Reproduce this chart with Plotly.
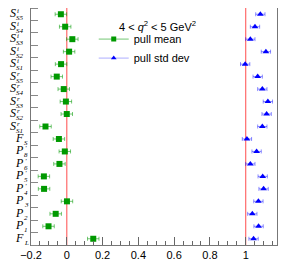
import plotly.graph_objects as go

base_letters = ["S"] * 10 + ["F", "P", "P", "P", "P", "P", "P", "P", "F"]
sup_texts = ["i"] * 5 + ["r"] * 5 + ["", "'", "'", "'", "'", "", "", "", ""]
sub_texts = ["S5", "S4", "S3", "S2", "S1", "S5", "S4", "S3", "S2", "S1",
             "S", "8", "6", "5", "4", "3", "2", "1", "L"]
rows = list(range(len(base_letters)))

pull_mean = [-0.033, -0.009, 0.031, 0.013, -0.032, -0.056, -0.017, -0.005, 0.0, -0.119,
             -0.044, -0.011, -0.041, -0.128, -0.127, 0.001, -0.062, -0.102, 0.148]
pull_mean_err = [0.032] * 19
pull_std = [1.082, 1.052, 1.026, 1.113, 0.997, 1.067, 1.093, 1.124, 1.117, 1.093,
            1.007, 1.061, 1.026, 1.095, 1.100, 1.071, 1.037, 1.072, 1.044]
pull_std_err = [0.026] * 19
ref_lines = [0, 1]

fig = go.Figure()
fig.add_trace(go.Scatter(
    x=pull_mean, y=rows, mode="markers", name="pull mean", showlegend=False,
    marker=dict(symbol="square", size=6, color="#009900"),
    error_x=dict(type="data", array=pull_mean_err, color="rgba(0,153,0,0.55)", thickness=1, width=2)))
fig.add_trace(go.Scatter(
    x=pull_std, y=rows, mode="markers", name="pull std dev", showlegend=False,
    marker=dict(symbol="triangle-up", size=6, color="#0000ff"),
    error_x=dict(type="data", array=pull_std_err, color="rgba(0,0,255,0.45)", thickness=1, width=2)))
fig.add_trace(go.Scatter(x=[None], y=[None], mode="lines+markers", name="pull mean",
                         line=dict(color="rgba(0,153,0,0.55)", width=1),
                         marker=dict(symbol="square", size=5, color="#009900")))
fig.add_trace(go.Scatter(x=[None], y=[None], mode="lines+markers", name="pull std dev",
                         line=dict(color="rgba(120,120,255,0.6)", width=1),
                         marker=dict(symbol="triangle-up", size=5, color="#0000ff")))

for v in ref_lines:
    fig.add_vline(x=v, line=dict(color="#ff6a6a", width=1.2), layer="below")

fig.add_annotation(text="4 &lt; <i>q</i><sup>2</sup> &lt; 5 GeV<sup>2</sup>",
                   xref="paper", yref="paper", x=0.35, y=0.926, xanchor="left", yanchor="middle",
                   showarrow=False, font=dict(family="Liberation Sans", size=11, color="black"))

# category labels with stacked super/subscripts
lab_font = "Liberation Serif"
for r, b, sp, sb in zip(rows, base_letters, sup_texts, sub_texts):
    edge = -15 if b == "S" else -7
    fig.add_annotation(text="<i>%s</i>" % b, xref="paper", yref="y", x=0, y=r,
                       xanchor="right", yanchor="middle", xshift=edge + 1, yshift=1,
                       showarrow=False, borderpad=0, font=dict(family=lab_font, size=12, color="black"))
    if sp:
        fig.add_annotation(text="<i>%s</i>" % sp, xref="paper", yref="y", x=0, y=r,
                           xanchor="left", yanchor="middle", xshift=edge, yshift=3,
                           showarrow=False, borderpad=0, font=dict(family=lab_font, size=7, color="black"))
    fig.add_annotation(text="<i>%s</i>" % sb, xref="paper", yref="y", x=0, y=r,
                       xanchor="left", yanchor="middle", xshift=edge - 1, yshift=-4,
                       showarrow=False, borderpad=0, font=dict(family=lab_font, size=7, color="black"))

fig.update_layout(
    width=279, height=267,
    margin=dict(l=23, r=10, t=0, b=30, autoexpand=False),
    plot_bgcolor="white", paper_bgcolor="white",
    font=dict(family="Liberation Sans", size=11, color="black"),
    legend=dict(x=0.255, y=0.93, xanchor="left", yanchor="top", bgcolor="rgba(0,0,0,0)",
                font=dict(size=11), itemwidth=30, tracegroupgap=0),
    xaxis=dict(range=[-0.2, 1.175], tickmode="linear", tick0=-0.2, dtick=0.2,
               ticks="inside", ticklen=8, tickcolor="#666", showgrid=False, zeroline=False,
               showline=True, linecolor="#777", mirror=True, automargin=False,
               minor=dict(tickmode="linear", tick0=0, dtick=0.05, ticks="inside", ticklen=4, tickcolor="#666"),
               tickfont=dict(size=11)),
    yaxis=dict(range=[18.5, -0.5], showticklabels=False,
               ticks="", showgrid=False, zeroline=False, automargin=False,
               showline=True, linecolor="#777", mirror=True,
               minor=dict(tickmode="linear", tick0=-0.5, dtick=1, ticks="inside", ticklen=7, tickcolor="#888")),
)
fig.write_html("out.html")
